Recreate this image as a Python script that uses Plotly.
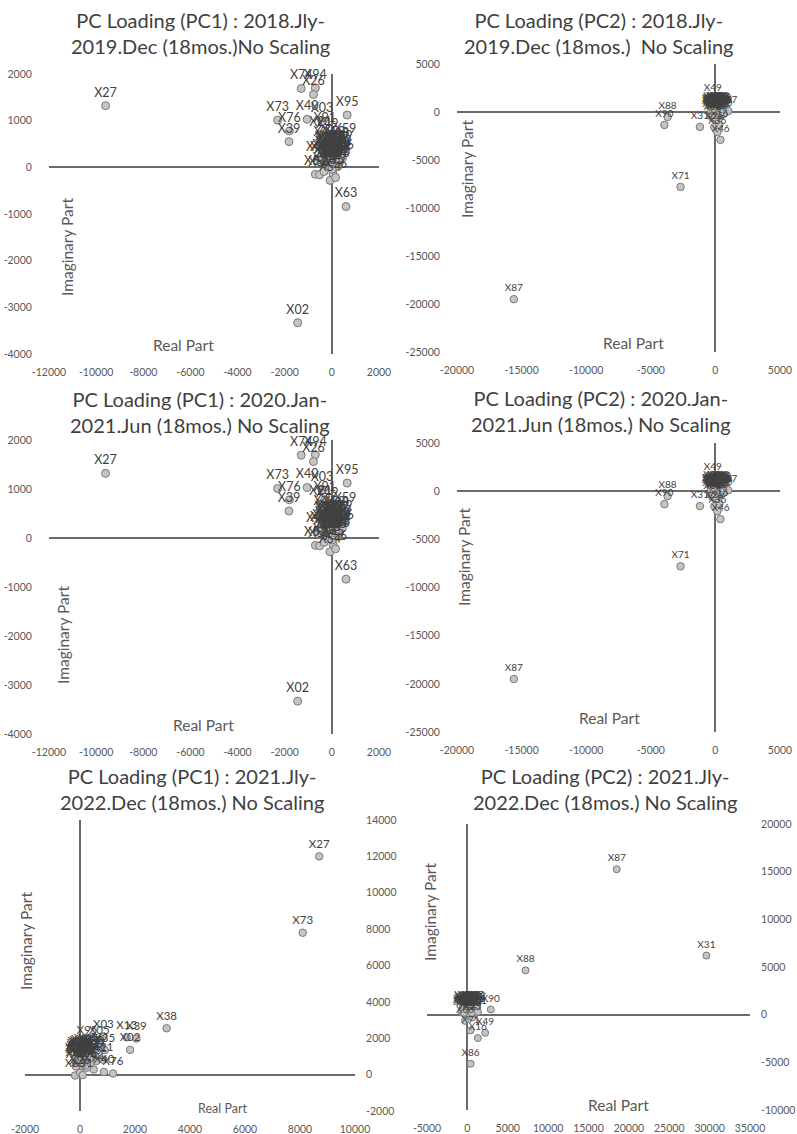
import plotly.graph_objects as go

W, H = 797, 1134
FONT = "Lato"

# ---------------- PC1 loadings, 2018.Jly-2019.Dec and 2020.Jan-2021.Jun ----------------
pc1_early_names = [
    "X27", "X02", "X63", "X95", "X73", "X76", "X39", "X74", "X94", "X26", "X40", "X03",
    "X91", "X21", "X48", "X59",
    "X01", "X04", "X05", "X06", "X07", "X08", "X09", "X10", "X11", "X12", "X13", "X14",
    "X15", "X16", "X17", "X18", "X19", "X20", "X22", "X23", "X24", "X25", "X28", "X29",
    "X30", "X31", "X32", "X33", "X34", "X35", "X36", "X37", "X38", "X41", "X42", "X43",
    "X44", "X45", "X46", "X47", "X49", "X50",
    "X51", "X52", "X53", "X54", "X55", "X56", "X57",
]
pc1_early_real = [
    -9600, -1450, 600, 650, -2300, -1800, -1820, -1300, -700, -780, -1050, -420,
    -300, -480, -620, 560,
    -120, 60, 150, -220, 250, -50, 280, 100, -180, 320, -250, 180,
    20, -80, 230, -300, 400, 120, -200, 300, -20, 200, -350, 80,
    250, -140, 350, -60, 200, -250, 140, 330, -450, 50, -100, 280,
    -300, 150, 450, 0, -200, 80,
    -700, -520, -330, -80, 50, 160, 10,
]
pc1_early_imag = [
    1320, -3330, -840, 1120, 1010, 780, 550, 1690, 1700, 1560, 1030, 980,
    780, 700, 150, 540,
    220, 170, 300, 130, 110, 60, 250, 340, 350, 180, 270, 40,
    150, 20, 340, 90, 380, 230, 30, 70, 300, 160, 200, 100,
    440, 110, 280, 380, 250, 370, 10, 130, 160, 270, 180, 30,
    480, 370, 200, 20, 650, 470,
    -150, -160, -90, -280, -130, -220, -40,
]

# ---------------- PC2 loadings, 2018.Jly-2019.Dec and 2020.Jan-2021.Jun ----------------
pc2_early_names = [
    "X87", "X71", "X88", "X90", "X31", "X49", "X67", "X06",
    "X12", "X25", "X16", "X36", "X46",
    "X01", "X02", "X03", "X04", "X05", "X07", "X08", "X09", "X10", "X11", "X13", "X14",
    "X15", "X17", "X18", "X19", "X20", "X21", "X22", "X23", "X24", "X26", "X27", "X28",
    "X29", "X30", "X32", "X33", "X34", "X35", "X37", "X38", "X39", "X40", "X41", "X42",
    "X43", "X44", "X45", "X47",
]
pc2_early_real = [
    -15600, -2700, -3700, -3950, -1200, -200, 1000, 250,
    -230, -80, 300, 150, 390,
    -250, 50, 300, -100, 450, 150, -300, 550, 0, 250, -150, 400,
    -250, 100, 600, -50, 250, -350, 500, 50, 200, -200, 350, 550,
    -100, 100, 400, -300, 200, 0, 500, -250, 150, 600, -350, 300,
    -50, 100, 400, -150,
]
pc2_early_imag = [
    -19500, -7800, -520, -1350, -1550, 1300, 100, -300,
    -620, -1560, -1350, -2080, -2900,
    100, 350, 0, -250, 400, -350, 250, -100, 200, 500, -450, 150,
    -150, -50, 100, 450, -500, 0, -300, 550, 250, 300, -200, 300,
    0, -400, 550, -300, 100, -150, 50, 500, 400, -200, 200, 350,
    -550, 200, -50, 150,
]

# ---------------- PC1 loadings, 2021.Jly-2022.Dec ----------------
pc1_late_names = [
    "X27", "X73", "X38", "X39", "X13", "X02", "X03", "X95", "X05", "X35", "X76", "X21",
    "X63", "X26", "X74", "X94", "X40", "X91",
    "X01", "X04", "X06", "X07", "X08", "X09", "X10", "X11", "X12", "X14", "X15", "X16",
    "X17", "X18", "X19", "X20", "X22", "X23", "X24", "X25", "X28", "X29", "X30", "X31",
    "X32", "X33", "X34", "X36", "X37", "X41", "X42", "X43", "X44", "X45", "X46",
]
pc1_late_real = [
    8700, 8100, 3150, 2050, 1700, 1820, 850, 250, 700, 900, 1200, 840,
    -180, 0, 250, 500, 870, 100,
    -100, 0, 150, 300, -150, 450, 50, 200, -120, 350, 0, 150,
    550, -80, 250, -150, 100, 400, -50, 300, -180, 50, 500, 0,
    200, -100, 350, 100, -50, 600, 250, 0, 150, -150, 450,
]
pc1_late_imag = [
    12000, 7800, 2550, 1980, 2050, 1360, 2100, 1750, 1750, 1350, 60, 820,
    -50, 100, 380, 280, 150, -30,
    800, 1100, 700, 1000, 550, 850, 1250, 500, 950, 1200, 650, 950,
    1050, 1150, 800, 700, 1050, 650, 900, 1300, 850, 500, 1200, 1000,
    1150, 1050, 900, 600, 750, 750, 950, 1200, 1350, 450, 1350,
]

# ---------------- PC2 loadings, 2021.Jly-2022.Dec ----------------
pc2_late_names = [
    "X87", "X31", "X88", "X90", "X86", "X71", "X49", "X16", "X06", "X12", "X25",
    "X01", "X02", "X03", "X04", "X05", "X07", "X08", "X09", "X10", "X11", "X13", "X14",
    "X15", "X17", "X18", "X19", "X20", "X21", "X22", "X23", "X24", "X26", "X27", "X28",
    "X29", "X30", "X32", "X33", "X34", "X35", "X36", "X37", "X38", "X39", "X40", "X41",
]
pc2_late_real = [
    18500, 29600, 7200, 2900, 400, 400, 2200, 1300, -300, 100, 600,
    -400, 0, 400, 800, -650, 250, 650, -150, 1100, -500, 150, 550,
    -250, 950, -600, 300, 700, -100, 1200, 100, 500, -350, 900, -700,
    250, 650, -150, 1050, 0, 400, -400, 800, 150, -550, 550, 1300,
]
pc2_late_imag = [
    15250, 6200, 4650, 550, -5150, -1650, -1900, -2450, -650, -80, -300,
    500, 800, 300, 700, 200, 900, 100, 300, 500, 850, 500, 850,
    100, 200, 600, 700, 400, 900, 850, 200, 600, 700, 900, 400,
    100, 800, 600, 700, 400, 900, 200, 300, 850, 900, 200, 300,
]

# ---------------- axis ticks ----------------
ticks_pc1_early_x = [-12000, -10000, -8000, -6000, -4000, -2000, 0, 2000]
ticks_pc1_early_y = [-4000, -3000, -2000, -1000, 0, 1000, 2000]
ticks_pc2_early_x = [-20000, -15000, -10000, -5000, 0, 5000]
ticks_pc2_early_y = [-25000, -20000, -15000, -10000, -5000, 0, 5000]
ticks_pc1_late_x = [-2000, 0, 2000, 4000, 6000, 8000, 10000]
ticks_pc1_late_y = [-2000, 0, 2000, 4000, 6000, 8000, 10000, 12000, 14000]
ticks_pc2_late_x = [-5000, 0, 5000, 10000, 15000, 20000, 25000, 30000, 35000]
ticks_pc2_late_y = [-10000, -5000, 0, 5000, 10000, 15000, 20000]

titles = [
    "PC Loading (PC1) : 2018.Jly-<br>2019.Dec (18mos.)No Scaling",
    "PC Loading (PC2) : 2018.Jly-<br>2019.Dec (18mos.) \u00a0No Scaling",
    "PC Loading (PC1) : 2020.Jan-<br>2021.Jun (18mos.) No Scaling",
    "PC Loading (PC2) : 2020.Jan-<br>2021.Jun (18mos.) No Scaling",
    "PC Loading (PC1) : 2021.Jly-<br>2022.Dec (18mos.) No Scaling",
    "PC Loading (PC2) : 2021.Jly-<br>2022.Dec (18mos.) No Scaling",
]

# placement of each panel in page pixels
panels = [
    dict(names=pc1_early_names, re=pc1_early_real, im=pc1_early_imag,
         xpx=(49, 379), ypx=(74, 354), xr=(-12000, 2000), yr=(-4000, 2000),
         xt=ticks_pc1_early_x, yt=ticks_pc1_early_y, side="left",
         title=(200, 33), imag=(67, 247), real=(183, 345), lab=12.5, msize=8, rsize=15.5),
    dict(names=pc2_early_names, re=pc2_early_real, im=pc2_early_imag,
         xpx=(457, 780), ypx=(64, 352), xr=(-20000, 5000), yr=(-25000, 5000),
         xt=ticks_pc2_early_x, yt=ticks_pc2_early_y, side="left",
         title=(599, 33), imag=(467, 169), real=(633, 343), lab=10, msize=7.5, rsize=15.5),
    dict(names=pc1_early_names, re=pc1_early_real, im=pc1_early_imag,
         xpx=(49, 379), ypx=(440, 734), xr=(-12000, 2000), yr=(-4000, 2000),
         xt=ticks_pc1_early_x, yt=ticks_pc1_early_y, side="left",
         title=(200, 412), imag=(63, 635), real=(203, 725), lab=12.5, msize=8, rsize=15.5),
    dict(names=pc2_early_names, re=pc2_early_real, im=pc2_early_imag,
         xpx=(457, 780), ypx=(443, 732), xr=(-20000, 5000), yr=(-25000, 5000),
         xt=ticks_pc2_early_x, yt=ticks_pc2_early_y, side="left",
         title=(601, 411), imag=(464, 557), real=(609, 718), lab=10, msize=7.5, rsize=15.5),
    dict(names=pc1_late_names, re=pc1_late_real, im=pc1_late_imag,
         xpx=(25, 355), ypx=(820, 1111), xr=(-2000, 10000), yr=(-2000, 14000),
         xt=ticks_pc1_late_x, yt=ticks_pc1_late_y, side="right",
         title=(192, 789), imag=(26, 941), real=(222, 1108), lab=11.5, msize=7.5, rsize=12.5),
    dict(names=pc2_late_names, re=pc2_late_real, im=pc2_late_imag,
         xpx=(427, 750), ypx=(824, 1110), xr=(-5000, 35000), yr=(-10000, 20000),
         xt=ticks_pc2_late_x, yt=ticks_pc2_late_y, side="right",
         title=(605, 789), imag=(430, 912), real=(618, 1105), lab=10, msize=7, rsize=15.5),
]

TICK_COLOR = "#595959"
LINE_COLOR = "#6b6b6b"
TEXT_COLOR = "#404040"

fig = go.Figure()
annotations = []
layout_axes = {}

for i, p in enumerate(panels, start=1):
    xa = "x" if i == 1 else f"x{i}"
    ya = "y" if i == 1 else f"y{i}"
    fig.add_trace(go.Scatter(
        x=p["re"], y=p["im"], text=p["names"],
        mode="markers+text", textposition="top center",
        textfont=dict(family=FONT, size=p["lab"], color=TEXT_COLOR),
        marker=dict(size=p["msize"], color="#c4c4c4",
                    line=dict(color="#777777", width=1)),
        cliponaxis=False, showlegend=False, hoverinfo="skip",
        xaxis=xa, yaxis=ya,
    ))
    x0, x1 = p["xpx"]
    y0, y1 = p["ypx"]
    common = dict(showgrid=False, showline=False, zeroline=True,
                  zerolinecolor=LINE_COLOR, zerolinewidth=1.5,
                  ticks="outside", tickcolor="rgba(0,0,0,0)",
                  tickfont=dict(family=FONT, size=10.5, color=TICK_COLOR),
                  automargin=False, fixedrange=True)
    layout_axes["xaxis" if i == 1 else f"xaxis{i}"] = dict(
        domain=[x0 / W, x1 / W], range=list(p["xr"]), anchor=ya,
        tickmode="array", tickvals=p["xt"], ticktext=[str(v) for v in p["xt"]],
        ticklen=8, **common)
    layout_axes["yaxis" if i == 1 else f"yaxis{i}"] = dict(
        domain=[1 - y1 / H, 1 - y0 / H], range=list(p["yr"]), anchor=xa,
        side=p["side"],
        tickmode="array", tickvals=p["yt"], ticktext=[str(v) for v in p["yt"]],
        ticklen=14 if p["side"] == "left" else 8, **common)

    tx, ty = p["title"]
    annotations.append(dict(
        text=titles[i - 1], x=tx / W, y=1 - ty / H, xref="paper", yref="paper",
        xanchor="center", yanchor="middle", showarrow=False,
        font=dict(family=FONT, size=20, color=TEXT_COLOR)))
    ix, iy = p["imag"]
    annotations.append(dict(
        text="Imaginary Part", x=ix / W, y=1 - iy / H, xref="paper", yref="paper",
        xanchor="center", yanchor="middle", showarrow=False, textangle=-90,
        font=dict(family=FONT, size=15.5, color=TICK_COLOR)))
    rx, ry = p["real"]
    annotations.append(dict(
        text="Real Part", x=rx / W, y=1 - ry / H, xref="paper", yref="paper",
        xanchor="center", yanchor="middle", showarrow=False,
        font=dict(family=FONT, size=p["rsize"], color=TICK_COLOR)))

fig.update_layout(
    template="none",
    width=W, height=H,
    margin=dict(l=0, r=0, t=0, b=0),
    paper_bgcolor="white", plot_bgcolor="white",
    annotations=annotations,
    **layout_axes,
)

fig.write_html("out.html", config={"displayModeBar": False})
